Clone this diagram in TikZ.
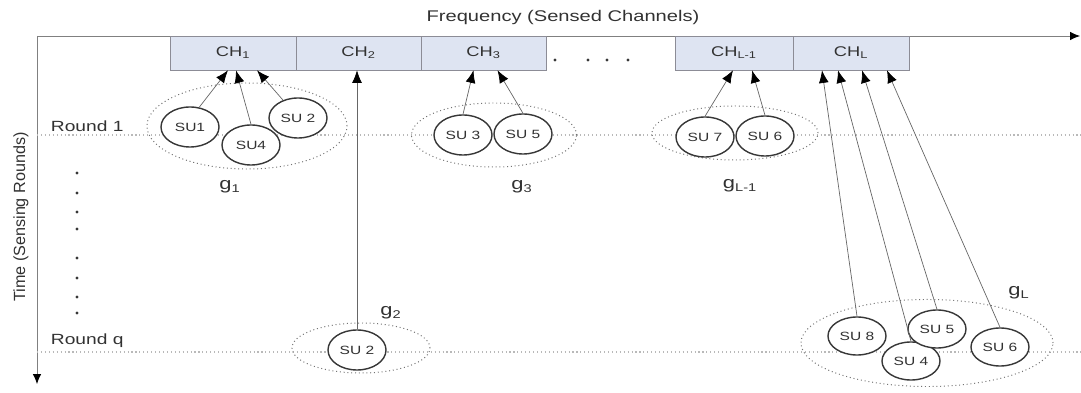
\documentclass[tikz,border=0pt]{standalone}
\usepackage{fontspec}
\setmainfont[FakeStretch=1.3]{Liberation Sans}
\newfontfamily\axisfont{Liberation Sans}
\usetikzlibrary{arrows.meta,shapes.geometric}
\definecolor{chfill}{RGB}{222,228,242}
\definecolor{chline}{RGB}{140,140,150}
\definecolor{sugray}{RGB}{55,55,55}
\definecolor{txtgray}{RGB}{50,50,50}
\definecolor{dotgray}{RGB}{185,185,185}
\tikzset{
  chbox/.style={draw=chline, fill=chfill, minimum height=0.85cm, inner sep=0pt, text=txtgray, font=\fontsize{10}{12}\selectfont},
  sunode/.style={ellipse, draw=sugray, line width=1pt, fill=white, minimum width=1.45cm, minimum height=1.0cm, inner sep=0pt, text=txtgray, font=\fontsize{8.5}{10}\selectfont},
  grp/.style={ellipse, draw=gray!90!black, dotted, line width=0.7pt, inner sep=0pt},
  glabel/.style={text=txtgray, font=\fontsize{12}{14}\selectfont},
  roundlabel/.style={anchor=base west, text=txtgray, font=\fontsize{10.5}{12}\selectfont},
  link/.style={draw=gray!80!black, line width=0.5pt, -{Latex[length=9pt,width=7pt,color=black]}},
  roundline/.style={draw=dotgray, dotted, line width=0.8pt},
  axis/.style={draw=gray, line width=0.6pt, -{Latex[length=7pt,width=6pt,color=black]}},
}
\begin{document}
\begin{tikzpicture}[x=0.025cm, y=-0.025cm]
  \useasboundingbox (0,0) rectangle (1081,393);

  % Axes
  \coordinate (origin) at (37,36);
  \coordinate (freqend) at (1080,36);
  \coordinate (timeend) at (37,384);
  \draw[axis] (origin) -- (freqend);
  \draw[axis] (origin) -- (timeend);
  \node[text=txtgray, font=\fontsize{11}{13}\selectfont] (freqlabel) at (563,18) {Frequency (Sensed Channels)};
  \node[rotate=90, text=txtgray, font=\axisfont\fontsize{11.5}{13}\selectfont] (timelabel) at (21,217) {Time (Sensing Rounds)};

  % Sensing rounds
  \coordinate (r1start) at (37,135);
  \coordinate (r1end) at (1081,135);
  \coordinate (rqstart) at (37,352);
  \coordinate (rqend) at (1081,352);
  \draw[roundline] (r1start) -- (r1end);
  \draw[roundline] (rqstart) -- (rqend);
  \node[roundlabel] (round1) at (46,132) {Round 1};
  \node[roundlabel] (roundq) at (46,345) {Round q};
  \foreach \y in {173,193,212,229,258,278,297,313}
    \fill[sugray] (77,\y) circle (1.2pt);

  % Channels
  \node[chbox, minimum width=3.15cm] (ch1) at (233,53) {CH\textsubscript{1}};
  \node[chbox, minimum width=3.125cm] (ch2) at (358.5,53) {CH\textsubscript{2}};
  \node[chbox, minimum width=3.125cm] (ch3) at (483.5,53) {CH\textsubscript{3}};
  \node[chbox, minimum width=2.95cm] (chl1) at (734,53) {CH\textsubscript{L-1}};
  \node[chbox, minimum width=2.9cm] (chl) at (851,53) {CH\textsubscript{L}};
  \foreach \x in {555,588,607,628}
    \fill[sugray] (\x,60) circle (1.1pt);

  % Groups
  \node[grp, minimum width=5cm, minimum height=2.15cm] (g1) at (247,126) {};
  \node[grp, minimum width=3.45cm, minimum height=1.25cm] (g2) at (361,348) {};
  \node[grp, minimum width=4.125cm, minimum height=1.6cm] (g3) at (494,135) {};
  \node[grp, minimum width=4.15cm, minimum height=1.35cm] (gl1) at (735,133) {};
  \node[grp, minimum width=6.3cm, minimum height=2.175cm] (gl) at (927,343) {};
  \node[glabel] (g1lab) at (230,187) {g\textsubscript{1}};
  \node[glabel] (g2lab) at (391,313) {g\textsubscript{2}};
  \node[glabel] (g3lab) at (522,187) {g\textsubscript{3}};
  \node[glabel] (gl1lab) at (740,186) {g\textsubscript{L-1}};
  \node[glabel] (gllab) at (1019,293) {g\textsubscript{L}};

  % Secondary users
  \node[sunode] (su1) at (190,127) {SU1};
  \node[sunode] (su4) at (251,145) {SU4};
  \node[sunode] (su2) at (298,118) {SU 2};
  \node[sunode] (su3) at (463,135) {SU 3};
  \node[sunode] (su5) at (523,134) {SU 5};
  \node[sunode] (su7) at (705,137) {SU 7};
  \node[sunode] (su6) at (765,136) {SU 6};
  \node[sunode] (su2q) at (357,350) {SU 2};
  \node[sunode, minimum height=0.95cm] (su8) at (857,336) {SU 8};
  \node[sunode, minimum height=0.95cm] (su4l) at (911,361) {SU 4};
  \node[sunode, minimum height=0.95cm] (su5l) at (937,329) {SU 5};
  \node[sunode, minimum height=0.95cm] (su6l) at (1000,347) {SU 6};

  % Sensing assignments
  \draw[link] (su1.65) -- ([xshift=-0.125cm]ch1.south);
  \draw[link] (su4.north) -- ([xshift=0.075cm]ch1.south);
  \draw[link] (su2.130) -- ([xshift=0.6cm]ch1.south);
  \draw[link] (su2q.north) -- (su2q.north |- ch2.south);
  \draw[link] (su3.north) -- ([xshift=-0.25cm]ch3.south);
  \draw[link] (su5.north) -- ([xshift=0.35cm]ch3.south);
  \draw[link] (su7.north) -- ([xshift=-0.025cm]chl1.south);
  \draw[link] (su6.north) -- ([xshift=0.45cm]chl1.south);
  \draw[link] (su8.north) -- ([xshift=-0.725cm]chl.south);
  \draw[link] (su4l.north) -- ([xshift=-0.325cm]chl.south);
  \draw[link] (su5l.north) -- ([xshift=0.275cm]chl.south);
  \draw[link] (su6l.north) -- ([xshift=0.9cm]chl.south);
\end{tikzpicture}
\end{document}
